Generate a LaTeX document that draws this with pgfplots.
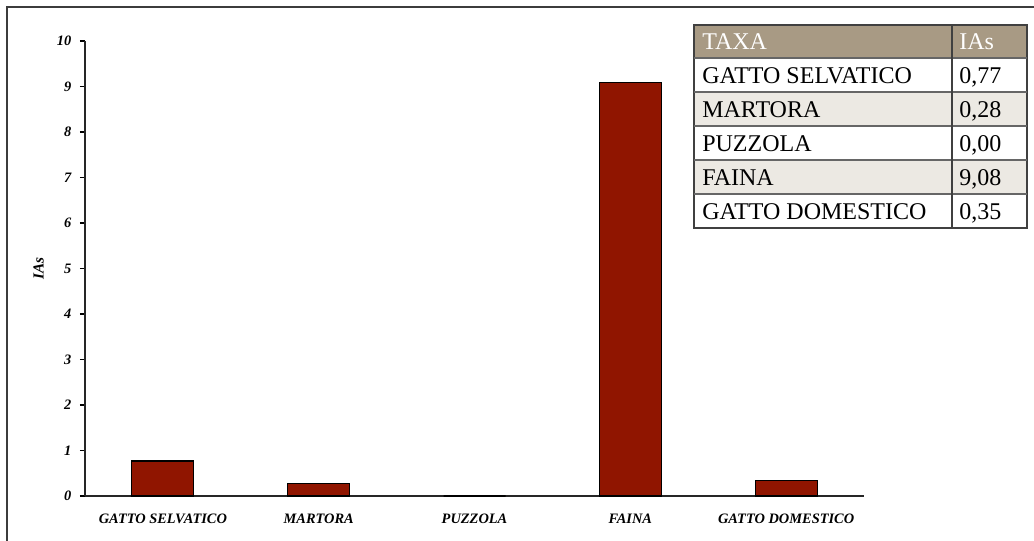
\documentclass[border=0pt]{standalone}
\usepackage{pgfplots}
\pgfplotsset{compat=1.18}
\usepackage{fontspec}
\setmainfont{Liberation Serif}
\definecolor{barred}{RGB}{144,21,0}
\definecolor{hdr}{RGB}{168,154,132}
\definecolor{rowgray}{RGB}{236,233,227}
\definecolor{frame}{RGB}{60,60,60}
\begin{document}
\begin{tikzpicture}
\begin{scope}[x=0.75pt,y=-0.75pt]
\path[use as bounding box] (0,0) rectangle (1034,541);
\draw[frame,line width=1.1pt] (7,560) -- (7,7) -- (1050,7);
\end{scope}
\begin{axis}[
  at={(63.75pt,-372pt)}, anchor=south west,
  scale only axis, width=584.25pt, height=341.25pt,
  xmin=-0.5, xmax=4.5, ymin=0, ymax=10,
  axis lines=left, axis line style={-, black!85, line width=0.8pt},
  ytick={0,1,...,10},
  xtick={0,1,2,3,4},
  xticklabels={GATTO SELVATICO,MARTORA,PUZZOLA,FAINA,GATTO DOMESTICO},
  major x tick style={draw=none},
  extra x ticks={-0.5,0.5,1.5,2.5,3.5,4.5},
  extra x tick labels={},
  extra x tick style={tick align=outside, major tick length=4pt, tick style={black!80, line width=0.8pt}},
  tick align=outside,
  major tick length=3.8pt,
  y tick style={black, line width=0.8pt},
  /pgf/number format/assume math mode=true,
  ticklabel style={font=\fontsize{10.8}{12}\selectfont\bfseries\itshape},
  yticklabel style={xshift=-3pt},
  xticklabel style={yshift=-6pt},
  ylabel={IAs},
  ylabel style={font=\fontsize{11.5}{12}\selectfont\bfseries\itshape, yshift=3pt},
  clip=false,
]
\addplot[ybar, bar width=46.5pt, fill=barred, draw=black, line width=0.8pt] coordinates {
(0,0.77) (1,0.28) (2,0.00) (3,9.08) (4,0.35)};
\end{axis}
% table
\begin{scope}[x=0.75pt,y=-0.75pt]
\fill[hdr] (694,25) rectangle (1027,58);
\fill[rowgray] (694,92) rectangle (1027,126);
\fill[rowgray] (694,160) rectangle (1027,194);
\draw[black!75, line width=0.9pt] (694,25) rectangle (1027,228);
\foreach \yy in {58,92,126,160,194} \draw[black!60, line width=0.9pt] (694,\yy) -- (1027,\yy);
\draw[black!75, line width=0.9pt] (952,25) -- (952,228);
\begin{scope}[every node/.style={anchor=base west, inner sep=0pt, font=\fontsize{18}{20}\selectfont}]
\node[white] at (702,50) {TAXA};
\node[white] at (959,50) {IAs};
\node at (702,84) {GATTO SELVATICO};
\node at (959,84) {0,77};
\node at (702,118) {MARTORA};
\node at (959,118) {0,28};
\node at (702,152) {PUZZOLA};
\node at (959,152) {0,00};
\node at (702,186) {FAINA};
\node at (959,186) {9,08};
\node at (702,220) {GATTO DOMESTICO};
\node at (959,220) {0,35};
\end{scope}
\end{scope}
\end{tikzpicture}
\end{document}
